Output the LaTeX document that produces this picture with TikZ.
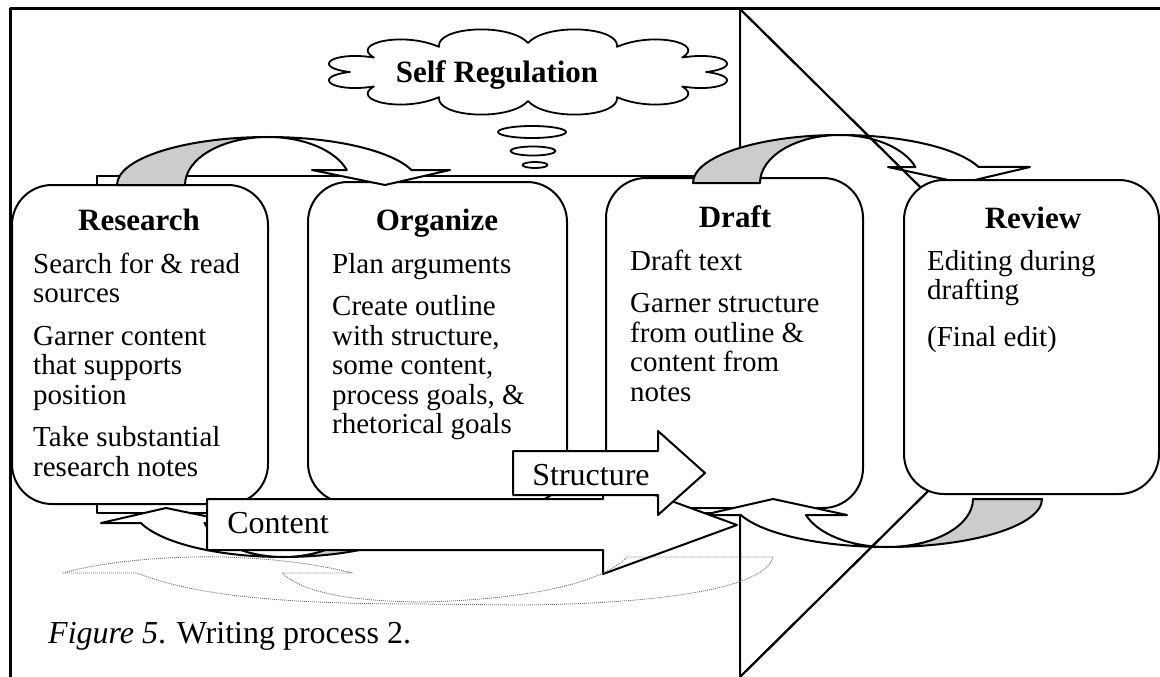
\documentclass[tikz,border=0pt]{standalone}
\usepackage{fontspec}
\setmainfont{Liberation Serif}
\usetikzlibrary{shapes.geometric}
\begin{document}
\begin{tikzpicture}[x=1pt,y=-1pt,line join=round,
  frameline/.style={line width=3pt},
  thinline/.style={line width=2pt},
  stagebox/.style={draw,line width=2pt,fill=white,rectangle,rounded corners=40pt,inner sep=0pt},
  grayband/.style={draw,line width=2pt,fill=black!20},
  whiteband/.style={draw,line width=2pt,fill=white},
  bigarrow/.style={draw,line width=2pt,fill=white},
  titletext/.style={font=\bfseries\fontsize{31}{31}\selectfont,inner sep=0pt},
  bodytext/.style={font=\fontsize{29}{29.5}\selectfont,inner sep=0pt},
  arrowtext/.style={font=\fontsize{32}{32}\selectfont,inner sep=0pt},
  shadowline/.style={draw=black!60,line width=0.8pt,dash pattern=on 1pt off 1pt},
  bubble/.style={draw,line width=1.8pt,fill=white}]
\useasboundingbox (0,0) rectangle (1160,677);
% frame
\draw[frameline] (10,677) -- (10,9) -- (1160,9);
% big triangle
\coordinate (tA) at (740,9);
\coordinate (tB) at (1078,343);
\coordinate (tC) at (740,677);
\draw[thinline] (tA) -- (tB) -- (tC) -- cycle;
% background rectangle
\draw[thinline,fill=white] (97,176) rectangle (740,513);
% stage boxes
\node[stagebox,minimum width=256pt,minimum height=319pt] (research) at (140,344.5) {};
\node[stagebox,minimum width=259pt,minimum height=321pt] (organize) at (437.5,342.5) {};
\node[stagebox,minimum width=257pt,minimum height=330pt] (draft) at (734.5,343) {};
% top curved arrow 1
\fill[grayband] (117,185) arc[start angle=180,end angle=90,x radius=151pt,y radius=48pt]
  arc[start angle=90,end angle=180,x radius=83pt,y radius=48pt] -- cycle;
\draw[whiteband] (268,137) arc[start angle=90,end angle=18.2,x radius=151pt,y radius=48pt]
  -- (450,170) -- (385,185) -- (312,170) -- (346.8,170)
  arc[start angle=18.2,end angle=90,x radius=83pt,y radius=48pt] -- cycle;
% top curved arrow 2
\fill[grayband] (693,183) arc[start angle=180,end angle=90,x radius=147pt,y radius=48pt]
  arc[start angle=90,end angle=180,x radius=80pt,y radius=48pt] -- cycle;
\draw[whiteband] (840,135) arc[start angle=90,end angle=19.5,x radius=147pt,y radius=48pt]
  -- (1030,167) -- (962,183) -- (888,167) -- (915.4,167)
  arc[start angle=19.5,end angle=90,x radius=80pt,y radius=48pt] -- cycle;
% bottom curved arrow A
\fill[grayband] (433,507) arc[start angle=0,end angle=-90,x radius=150pt,y radius=50pt]
  arc[start angle=-90,end angle=0,x radius=83pt,y radius=50pt] -- cycle;
\draw[whiteband] (283,557) arc[start angle=-90,end angle=-161.3,x radius=150pt,y radius=50pt]
  -- (101,523) -- (166,508) -- (239,523) -- (204.4,523)
  arc[start angle=-161.3,end angle=-90,x radius=83pt,y radius=50pt] -- cycle;
% bottom curved arrow B
\fill[grayband] (1042,499) arc[start angle=0,end angle=-90,x radius=155pt,y radius=48pt]
  arc[start angle=-90,end angle=0,x radius=86pt,y radius=48pt] -- cycle;
\draw[whiteband] (887,547) arc[start angle=-90,end angle=-160.5,x radius=155pt,y radius=48pt]
  -- (703,515) -- (773,499) -- (847,515) -- (805.9,515)
  arc[start angle=-160.5,end angle=-90,x radius=86pt,y radius=48pt] -- cycle;
% triangle diagonals on top of the bands
\draw[thinline] (tA) -- (tB) -- (tC);
% review box
\node[stagebox,minimum width=255pt,minimum height=314pt] (review) at (1031.5,337) {};
% content arrow
\draw[bigarrow] (207,499) -- (603,499) -- (603,476) -- (737,525) -- (603,574) -- (603,550) -- (207,550) -- cycle;
% structure arrow
\draw[bigarrow] (513,451) -- (658,451) -- (658,431) -- (705,473) -- (658,515) -- (658,495) -- (513,495) -- cycle;
% dotted reflection
\draw[shadowline] (63,573) -- (137,573) .. controls (200,598) and (300,604) .. (420,604) -- (520,605)
  .. controls (650,604) and (765,590) .. (773,557) -- (627,557)
  .. controls (600,585) and (520,600) .. (420,602)
  .. controls (340,601) and (300,590) .. (282,573) -- (353,573)
  .. controls (300,560) and (240,556) .. (193,557)
  .. controls (140,558) and (90,565) .. (63,573);
% cloud
\coordinate (cloudc) at (528,72);
\begin{scope}[shift={(cloudc)}]
\draw[bubble] (0:178 and 29)
  \foreach \a in {0,30,...,330} { .. controls (\a+5:218 and 50) and (\a+25:218 and 50) .. (\a+30:178 and 29) } -- cycle;
\end{scope}
% thought bubbles
\node[bubble,ellipse,minimum width=68pt,minimum height=12pt,inner sep=0pt] (b1) at (532,132) {};
\node[bubble,ellipse,minimum width=45pt,minimum height=9pt,inner sep=0pt] (b2) at (533,151) {};
\node[bubble,ellipse,minimum width=25pt,minimum height=6pt,inner sep=0pt] (b3) at (535,165) {};
% texts
\node[titletext,anchor=base] (selfreg) at (497,82) {Self Regulation};
\node[titletext,anchor=base] (researchT) at (139,230) {Research};
\node[titletext,anchor=base] (organizeT) at (437,230) {Organize};
\node[titletext,anchor=base] (draftT) at (735,227) {Draft};
\node[titletext,anchor=base] (reviewT) at (1033,228) {Review};
\node[bodytext,anchor=base west] (researchB) at (33,273) {\parbox[t]{232pt}{\raggedright
  Search for \& read\\sources\\[13pt]Garner content\\that supports\\position\\[13pt]Take substantial\\research notes}};
\node[bodytext,anchor=base west] (organizeB) at (332,273) {\parbox[t]{232pt}{\raggedright
  Plan arguments\\[13pt]Create outline\\with structure,\\some content,\\process goals, \&\\rhetorical goals}};
\node[bodytext,anchor=base west] (draftB) at (630,270) {\parbox[t]{230pt}{\raggedright
  Draft text\\[13pt]Garner structure\\from outline \&\\content from\\notes}};
\node[bodytext,anchor=base west] (reviewB) at (927,270) {\parbox[t]{228pt}{\raggedright
  Editing during\\drafting\\[17pt](Final edit)}};
\node[arrowtext,anchor=base] (structT) at (591,485) {Structure};
\node[arrowtext,anchor=base] (contT) at (278,533) {Content};
\node[arrowtext,anchor=base west] (caption) at (48,643) {\textit{Figure 5}. Writing process 2.};
\end{tikzpicture}
\end{document}
